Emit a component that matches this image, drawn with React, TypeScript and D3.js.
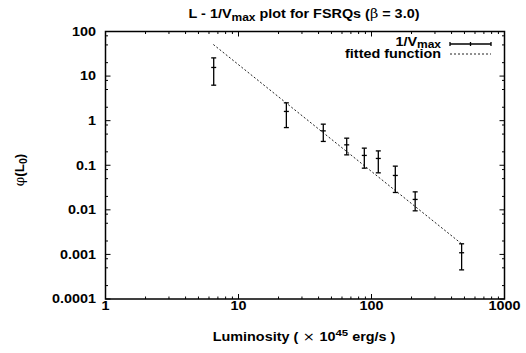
import React from "react";
import * as d3 from "d3";

const luminosity = [6.51, 22.9, 43.4, 65.1, 88.3, 112.5, 151, 213, 476];
const phiValue = [15.6, 1.61, 0.59, 0.287, 0.166, 0.142, 0.059, 0.0171, 0.00109];
const phiUpper = [25.6, 2.51, 0.835, 0.405, 0.242, 0.21, 0.0955, 0.0253, 0.00173];
const phiLower = [6.25, 0.7, 0.342, 0.171, 0.086, 0.0676, 0.0245, 0.0095, 0.00045];

const fitL = [6.47, 476];
const fitPhi = [51.1, 0.00173];

const xTickValues = [1, 10, 100, 1000];
const xTickLabels = ["1", "10", "100", "1000"];
const yTickValues = [0.0001, 0.001, 0.01, 0.1, 1, 10, 100];
const yTickLabels = ["0.0001", "0.001", "0.01", "0.1", "1", "10", "100"];
const xMinorMultipliers = [2, 3, 4, 5, 6, 7, 8, 9];
const yMinorMultipliers = [2, 5, 8];

const W = 526;
const H = 353;
const left = 105.5;
const right = 504.5;
const top = 31.5;
const bottom = 299;

const FONT = "'Liberation Sans', Arial, Helvetica, sans-serif";
const FS = 12;
const SX = 1.2;

function ST({
  x,
  y,
  anchor,
  children,
}: {
  x: number;
  y: number;
  anchor: "start" | "middle" | "end";
  children: React.ReactNode;
}) {
  return (
    <g transform={`translate(${x},${y}) scale(${SX},1)`}>
      <text x={0} y={0} textAnchor={anchor} fontSize={FS} fontWeight="bold">
        {children}
      </text>
    </g>
  );
}

export default function App() {
  const x = d3.scaleLog().domain([1, 1000]).range([left, right]);
  const y = d3.scaleLog().domain([0.0001, 100]).range([bottom, top]);

  const xMinor: number[] = [];
  for (let d = 1; d < 1000; d *= 10) xMinorMultipliers.forEach((m) => xMinor.push(d * m));
  const yMinor: number[] = [];
  for (let d = 0.0001; d < 100; d *= 10) yMinorMultipliers.forEach((m) => yMinor.push(d * m));

  const fitLine = d3
    .line<number>()
    .x((_, i) => x(fitL[i]))
    .y((_, i) => y(fitPhi[i]))(fitL);

  const majorLen = 5;
  const minorLen = 2.5;
  const cap = 2.5;

  return (
    <svg
      width={W}
      height={H}
      style={{ position: "absolute", left: 0, top: 0, background: "#fff" }}
      fontFamily={FONT}
    >
      <rect x={0} y={0} width={W} height={H} fill="#fff" />
      {/* title */}
      <ST x={304} y={17.5} anchor="middle">
        L - 1/V
        <tspan fontSize={10} dy={3}>max</tspan>
        <tspan dy={-3}> plot for FSRQs (</tspan>
        <tspan fontWeight="normal" fontFamily="'DejaVu Serif', serif">β</tspan>
        <tspan> = 3.0)</tspan>
      </ST>

      {/* ticks */}
      <g stroke="#000" strokeWidth={1}>
        {xTickValues.map((v) => (
          <g key={"xt" + v}>
            <line x1={x(v)} x2={x(v)} y1={bottom} y2={bottom - majorLen} />
            <line x1={x(v)} x2={x(v)} y1={top} y2={top + majorLen} />
          </g>
        ))}
        {xMinor.map((v) => (
          <g key={"xm" + v}>
            <line x1={x(v)} x2={x(v)} y1={bottom} y2={bottom - minorLen} />
            <line x1={x(v)} x2={x(v)} y1={top} y2={top + minorLen} />
          </g>
        ))}
        {yTickValues.map((v) => (
          <g key={"yt" + v}>
            <line x1={left} x2={left + majorLen} y1={y(v)} y2={y(v)} />
            <line x1={right} x2={right - majorLen} y1={y(v)} y2={y(v)} />
          </g>
        ))}
        {yMinor.map((v) => (
          <g key={"ym" + v}>
            <line x1={left} x2={left + minorLen} y1={y(v)} y2={y(v)} />
            <line x1={right} x2={right - minorLen} y1={y(v)} y2={y(v)} />
          </g>
        ))}
      </g>

      {/* frame */}
      <rect
        x={left}
        y={top}
        width={right - left}
        height={bottom - top}
        fill="none"
        stroke="#000"
        strokeWidth={1.5}
      />

      {/* tick labels */}
      {xTickValues.map((v, i) => (
        <ST key={"xl" + v} x={x(v)} y={310} anchor="middle">
          {xTickLabels[i]}
        </ST>
      ))}
      {yTickValues.map((v, i) => (
        <ST key={"yl" + v} x={96} y={y(v) + 4.3} anchor="end">
          {yTickLabels[i]}
        </ST>
      ))}

      {/* axis labels */}
      <ST x={304} y={341} anchor="middle">
        Luminosity (
        <tspan fontWeight="normal" fontFamily="'DejaVu Sans', sans-serif"> × </tspan>
        10
        <tspan fontSize={9.5} dy={-5}>45</tspan>
        <tspan dy={5}> erg/s )</tspan>
      </ST>
      <text
        transform={`translate(24,170) rotate(-90)`}
        textAnchor="middle"
        fontSize={13.5}
        fontWeight="bold"
      >
        <tspan fontWeight="normal" fontFamily="'DejaVu Serif', serif">φ</tspan>
        (L
        <tspan fontSize={10.5} dy={3}>0</tspan>
        <tspan dy={-3}>)</tspan>
      </text>

      {/* fitted function */}
      <path d={fitLine || ""} fill="none" stroke="#222" strokeWidth={1} strokeDasharray="2,2" />

      {/* error bars */}
      <g stroke="#000" strokeWidth={1.3}>
        {luminosity.map((L, i) => {
          const cx = x(L);
          return (
            <g key={"eb" + i}>
              <line x1={cx} x2={cx} y1={y(phiUpper[i])} y2={y(phiLower[i])} />
              <line x1={cx - cap} x2={cx + cap} y1={y(phiUpper[i])} y2={y(phiUpper[i])} />
              <line x1={cx - cap} x2={cx + cap} y1={y(phiLower[i])} y2={y(phiLower[i])} />
              <line x1={cx - cap} x2={cx + cap} y1={y(phiValue[i])} y2={y(phiValue[i])} />
            </g>
          );
        })}
      </g>

      {/* legend */}
      <ST x={441} y={45.5} anchor="end">
        1/V
        <tspan fontSize={10} dy={2.5}>max</tspan>
      </ST>
      <ST x={441} y={58} anchor="end">
        fitted function
      </ST>
      <g stroke="#000" strokeWidth={1.3}>
        <line x1={450} x2={491} y1={44} y2={44} />
        <line x1={450} x2={450} y1={42} y2={46} />
        <line x1={491} x2={491} y1={42} y2={46} />
        <line x1={470.5} x2={470.5} y1={42} y2={46} />
      </g>
      <line x1={450} x2={491} y1={54} y2={54} stroke="#222" strokeWidth={1} strokeDasharray="2,2" />
    </svg>
  );
}
